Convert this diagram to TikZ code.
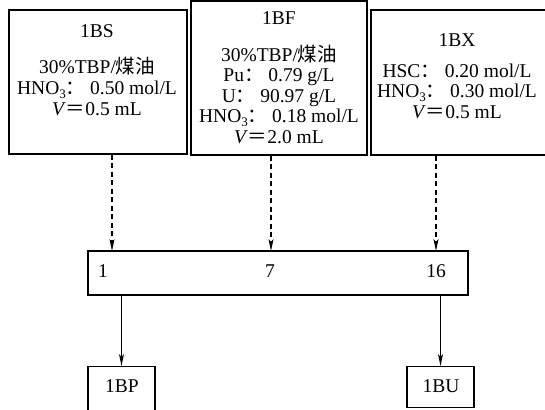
\documentclass[tikz,border=0pt]{standalone}
\usepackage{fontspec}
\setmainfont{Liberation Serif}
\newfontfamily\cjk{Noto Sans CJK SC}
\usetikzlibrary{arrows.meta,positioning}
\tikzset{
  box/.style={draw,line width=1.1pt,inner sep=0pt},
  feed/.style={line width=1.1pt,dash pattern=on 5pt off 3.5pt,-{Stealth[length=12pt,width=5pt,inset=3pt]}},
  flow/.style={line width=1.1pt,-{Stealth[length=12pt,width=5pt,inset=3pt]}},
  txt/.style={align=center,anchor=base,inner sep=0pt,font=\fontsize{19.5}{20.5}\selectfont}
}
\newcommand{\co}{{\cjk ：}}
\newcommand{\eq}{{\cjk ＝}}
\newcommand{\hno}{HNO\raisebox{-0.18em}{\fontsize{13}{13}\selectfont 3}}

\begin{document}
\begin{tikzpicture}[x=1pt,y=-1pt]
\useasboundingbox (0,0) rectangle (545,409);
\clip (0,0) rectangle (545,409);
% feed boxes
\node[box,minimum width=178pt,minimum height=144pt] (bs) at (98,82) {};
\node[box,minimum width=176pt,minimum height=154pt] (bf) at (279,78) {};
\node[box,minimum width=177pt,minimum height=145pt] (bx) at (459.5,82.5) {};
\node[txt] (bs title) at (97,38) {1BS};
\node[txt] (bs data) at (97,115) {30\%TBP/{\cjk 煤油}\\\hno\co\ 0.50 mol/L\\\textit{V}\eq0.5 mL};
\node[txt] (bf title) at (279,25) {1BF};
\node[txt] (bf data) at (279,143) {30\%TBP/{\cjk 煤油}\\Pu\co\ 0.79 g/L\\U\co\ 90.97 g/L\\\hno\co\ 0.18 mol/L\\\textit{V}\eq2.0 mL};
\node[txt] (bx title) at (457,47) {1BX};
\node[txt] (bx data) at (457,118) {HSC\co\ 0.20 mol/L\\\hno\co\ 0.30 mol/L\\\textit{V}\eq0.5 mL};
% contactor
\node[box,minimum width=380pt,minimum height=44pt] (proc) at (278,273) {};
\foreach \n/\x in {1/103,7/270,16/436}
  \node[txt] (n\n) at (\x,277) {\n};
\coordinate (p1) at (112,251);
\coordinate (p7) at (271,251);
\coordinate (p16) at (436,251);
\draw[feed] (bs.south -| p1) -- (p1);
\draw[feed] (bf.south -| p7) -- (p7);
\draw[feed] (bx.south -| p16) -- (p16);
% products
\node[box,minimum width=67pt,minimum height=60pt,anchor=north] (bp) at (121.5,366) {};
\node[box,minimum width=67pt,minimum height=41pt,anchor=north] (bu) at (440.5,366) {};
\node[txt] (bp label) at (122,392) {1BP};
\node[txt] (bu label) at (441,392) {1BU};
\draw[flow] (proc.south -| bp.north) -- (bp.north);
\draw[flow] (proc.south -| bu.north) -- (bu.north);
\end{tikzpicture}
\end{document}
